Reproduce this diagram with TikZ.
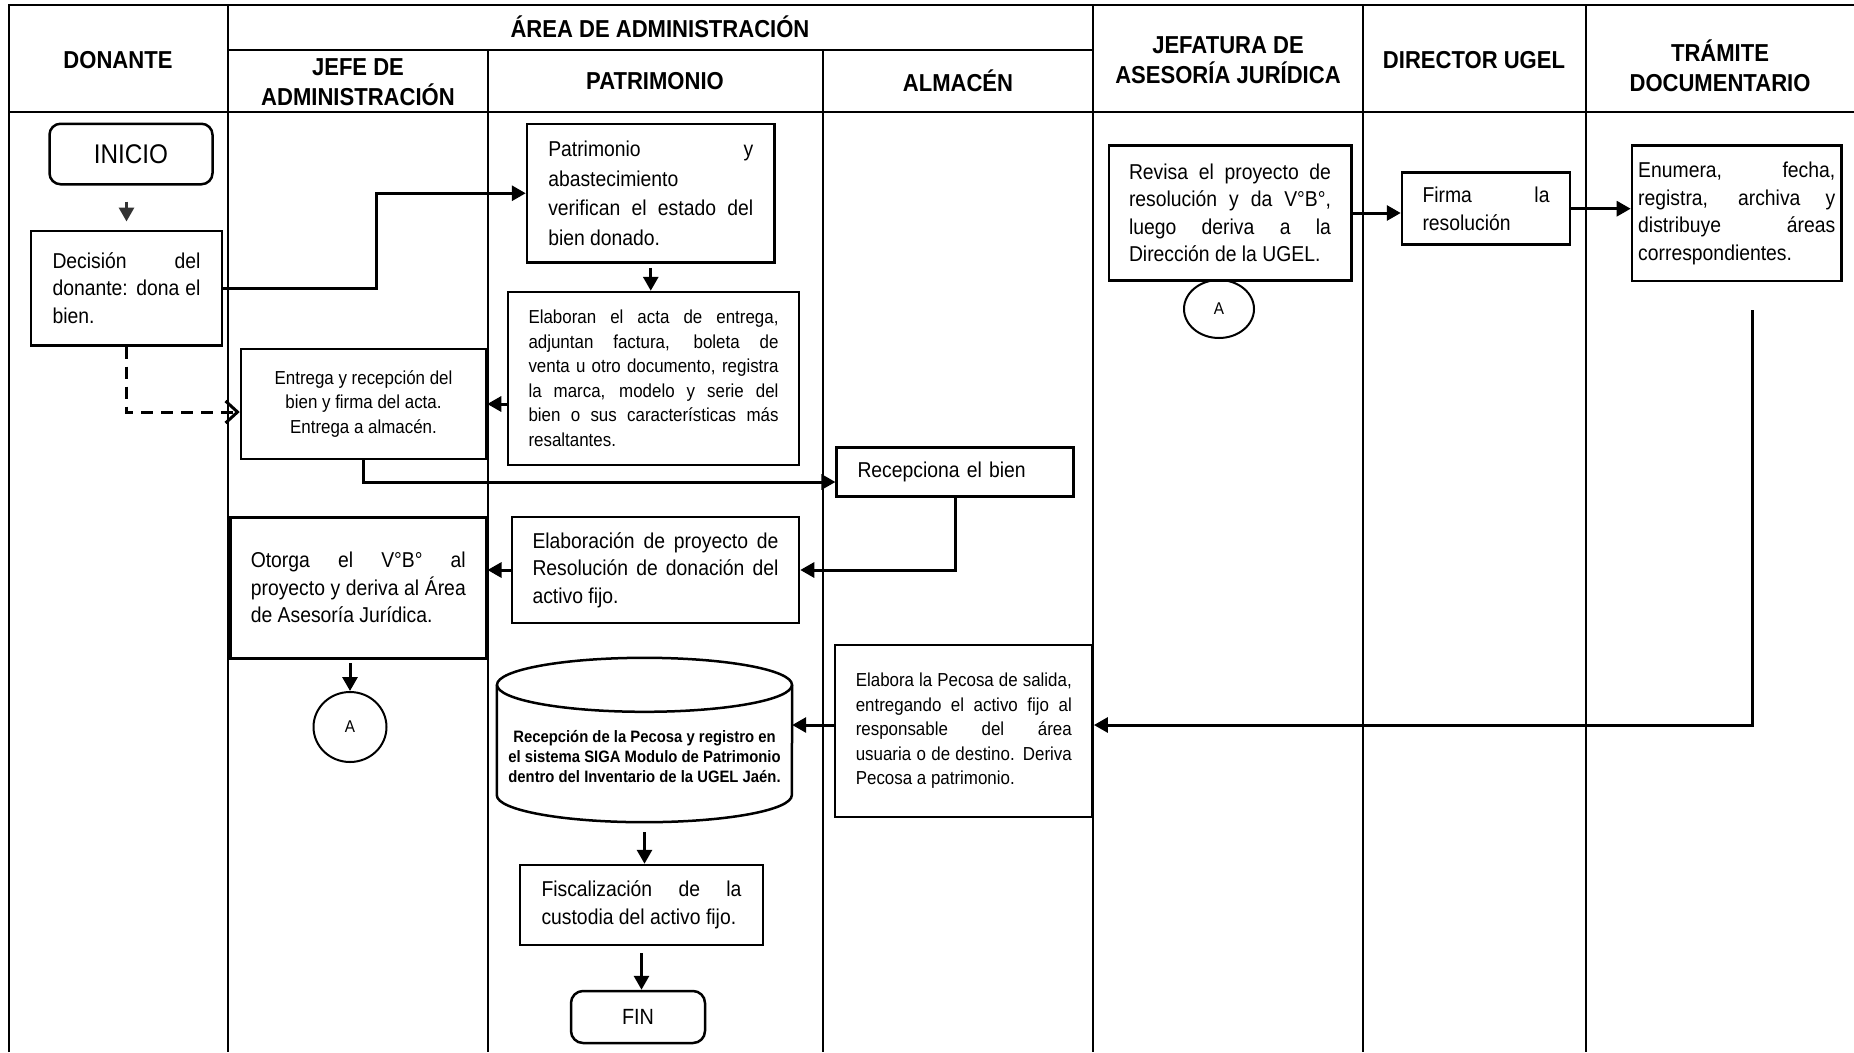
\documentclass[tikz,border=0pt]{standalone}
\usepackage{fontspec}
\setmainfont{Liberation Sans}[FakeStretch=0.9]
\usetikzlibrary{arrows.meta,shapes.geometric}
\tolerance=10000
\hbadness=10000

\begin{document}
\begin{tikzpicture}[x=1pt,y=-1pt,
    caja/.style={draw,line width=2.5pt,inner sep=0pt,align=justify,
      font=\fontsize{21.5}{27.5}\selectfont},
    chica/.style={caja,font=\fontsize{18.8}{24.5}\selectfont},
    redonda/.style={caja,rounded corners=11pt,align=center},
    conector/.style={draw,ellipse,line width=2pt,inner sep=0pt,
      font=\fontsize{17}{20}\selectfont},
    cilindro/.style={inner sep=0pt,align=center,font=\bfseries\fontsize{16.5}{20}\selectfont},
    titulo/.style={align=center,font=\bfseries\fontsize{24.5}{30}\selectfont},
    flecha/.style={line width=3pt,-{Triangle[length=14pt,width=15pt]}},
    linea/.style={line width=2pt}
  ]

      \useasboundingbox (0,0) rectangle (1854,1052);

      % carriles
      \draw[linea] (9,1052) -- (9,5) -- (1854,5);
      \draw[linea] (9,112) -- (1854,112);
      \draw[linea] (228,50) -- (1093,50);
      \foreach \x in {228,1093,1363,1586}
        \draw[linea] (\x,5) -- (\x,1052);
      \foreach \x in {488,823}
        \draw[linea] (\x,50) -- (\x,1052);

      \begin{scope}[every node/.style={titulo}]
        \node (donante)  at (118,60)  {DONANTE};
        \node (area)     at (660,27)  {ÁREA DE ADMINISTRACIÓN};
        \node (jefe)     at (358,82)  {JEFE DE\\ADMINISTRACIÓN};
        \node (patri)    at (655,81)  {PATRIMONIO};
        \node (almacen)  at (958,81)  {ALMACÉN};
        \node (juridica) at (1228,60) {JEFATURA DE\\ASESORÍA JURÍDICA};
        \node (director) at (1474,60) {DIRECTOR UGEL};
        \node (tramite)  at (1720,66) {TRÁMITE\\DOCUMENTARIO};
      \end{scope}

      % pasos
      \node[redonda,minimum width=163pt,minimum height=60.5pt,
        font=\fontsize{27}{32}\selectfont] (inicio) at (131,154) {INICIO};
      \node[caja,minimum width=191pt,minimum height=114.5pt,text width=148pt]
        (decision) at (126.5,288) {Decisión del\linebreak donante: dona el\linebreak bien.};
      \node[caja,minimum width=247.5pt,minimum height=138.5pt,text width=205pt,
        font=\fontsize{21.5}{29.5}\selectfont]
        (verifica) at (650.75,193.25) {Patrimonio y\linebreak abastecimiento\linebreak
        verifican el estado del\linebreak bien donado.};
      \node[chica,minimum width=291pt,minimum height=173pt,text width=250pt]
        (acta) at (653.5,378.5) {Elaboran el acta de entrega,\linebreak
        adjuntan factura, boleta de\linebreak venta u otro documento, registra\linebreak
        la marca, modelo y serie del\linebreak bien o sus características más\linebreak
        resaltantes.};
      \node[chica,align=center,minimum width=245pt,minimum height=110pt]
        (entrega) at (363.5,404) {Entrega y recepción del\\bien y firma del acta.\\Entrega a almacén.};
      \node[caja,align=left,minimum width=236.6pt,minimum height=48.6pt,text width=195pt]
        (recepciona) at (955,472) {Recepciona el bien};
      \node[caja,minimum width=287pt,minimum height=106pt,text width=246pt]
        (proyecto) at (655.5,570) {Elaboración de proyecto de\linebreak
        Resolución de donación del\linebreak activo fijo.};
      \node[caja,line width=3pt,minimum width=255.4pt,minimum height=141.6pt,text width=215pt]
        (otorga) at (358.3,587.8) {Otorga el V°B° al\linebreak
        proyecto y deriva al Área\linebreak de Asesoría Jurídica.};
      \node[conector,minimum width=73pt,minimum height=70pt] (conA) at (350,727) {A};
      \node[cilindro,minimum width=295pt,minimum height=130pt]
        (siga) at (644.5,757) {Recepción de la Pecosa y registro en\\
        el sistema SIGA Modulo de Patrimonio\\dentro del Inventario de la UGEL Jaén.};
      \draw[line width=2.5pt] ([yshift=7pt]siga.north) ellipse [x radius=147.5pt,y radius=27pt];
      \draw[line width=2.5pt] ([yshift=7pt]siga.north west) -- ([yshift=27pt]siga.south west)
        arc[start angle=180,end angle=360,x radius=147.5pt,y radius=27pt]
        -- ([yshift=7pt]siga.north east);
      \node[caja,minimum width=243pt,minimum height=80pt,text width=200pt]
        (fiscaliza) at (641.5,905) {Fiscalización de la\linebreak custodia del activo fijo.};
      \node[redonda,minimum width=134pt,minimum height=52pt,rounded corners=12pt,
        font=\fontsize{22}{26}\selectfont] (fin) at (638,1017) {FIN};
      \node[chica,minimum width=257.7pt,minimum height=172pt,text width=216pt]
        (pecosa) at (963.8,731) {Elabora la Pecosa de salida,\linebreak
        entregando el activo fijo al\linebreak responsable del área\linebreak
        usuaria o de destino. Deriva\linebreak Pecosa a patrimonio.};
      \node[caja,minimum width=242.5pt,minimum height=135pt,text width=202pt]
        (revisa) at (1230,213) {Revisa el proyecto de\linebreak resolución y da V°B°,\linebreak
        luego deriva a la\linebreak Dirección de la UGEL.};
      \node[conector,minimum width=70pt,minimum height=58pt] (conB) at (1219,309) {A};
      \node[caja,minimum width=168pt,minimum height=72pt,text width=127pt]
        (firma) at (1486,208.7) {Firma la\linebreak resolución};
      \node[caja,minimum width=209.5pt,minimum height=135.6pt,text width=197pt]
        (enumera) at (1736.7,213.2) {Enumera, fecha,\linebreak registra, archiva y\linebreak
        distribuye áreas\linebreak correspondientes.};

      % conectores
      \coordinate (codo) at (376,0);
      \draw[flecha,black!80,shorten <=16pt,shorten >=8pt] (decision.north |- inicio.south) -- (decision.north);
      \draw[flecha] (decision.east) -- (decision.east -| codo) |- (verifica.west);
      \draw[line width=3pt,dash pattern=on 12pt off 8pt,-{Straight Barb[length=12pt,width=22pt]}]
        (decision.south) |- ([yshift=-8pt]entrega.west);
      \draw[flecha,shorten <=4pt] (verifica.south) -- (verifica.south |- acta.north);
      \draw[flecha] (acta.west |- entrega.east) -- (entrega.east);
      \draw[flecha] (entrega.south) |- ([yshift=-10pt]recepciona.west);
      \draw[flecha] (recepciona.south) |- (proyecto.east);
      \draw[flecha] (proyecto.west) -- (proyecto.west -| otorga.east);
      \draw[flecha,shorten <=3pt] (conA.north |- otorga.south) -- (conA.north);
      \draw[flecha] (revisa.east) -- (revisa.east -| firma.west);
      \draw[flecha] (firma.east) -- (firma.east -| enumera.west);
      \draw[flecha] ([xshift=16pt,yshift=-28pt]enumera.south) |- ([yshift=6pt]pecosa.east);
      \draw[flecha] ([yshift=6pt]pecosa.west) -- ([yshift=6pt]pecosa.west -| siga.east);
      \draw[flecha,shorten <=10pt] (siga.south) -- (siga.south |- fiscaliza.north);
      \draw[flecha,shorten <=7pt] (fiscaliza.south) -- (fiscaliza.south |- fin.north);

    \end{tikzpicture}
\end{document}
